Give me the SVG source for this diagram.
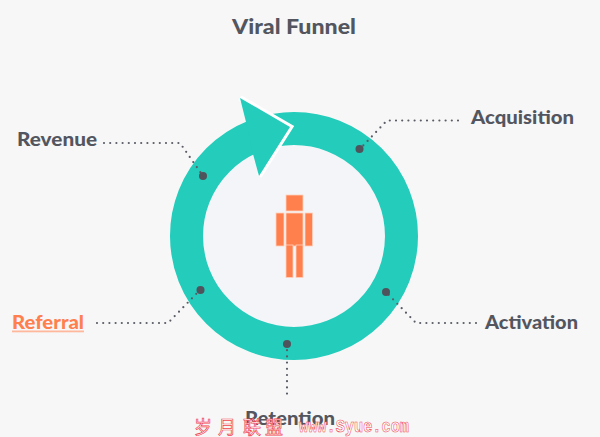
<svg xmlns="http://www.w3.org/2000/svg" width="600" height="437" viewBox="0 0 600 437">
<style>
.l{font-family:Lato,"Open Sans",sans-serif;font-weight:900;font-size:19.500px;fill:#53565f}
.d{fill:none;stroke:#5a5d66;stroke-width:2.2;stroke-linecap:round;stroke-dasharray:0 6.2}
.p{fill:#4f535c}
.o{fill:#ff7f4d;stroke:#ffd2bd;stroke-width:.8}
.w{font-family:"Liberation Mono",monospace;font-weight:700;fill:#fff;stroke:#f0454f;stroke-width:.6}
.c{font-family:"Noto Sans CJK SC",sans-serif;font-weight:400;font-size:18px;fill:#fff;stroke:#f0454f;stroke-width:.7}
</style>
<rect width="600" height="437" fill="#f7f7f7"/>
<text x="232" y="34" class="l" style="font-size:21px" textLength="124" lengthAdjust="spacingAndGlyphs">Viral Funnel</text>
<g id="ring">
<circle cx="294" cy="236" r="107.5" fill="#f3f5f8" stroke="#23ccbb" stroke-width="33"/>
<polyline points="240,98 290,127 259,176" fill="none" stroke="#fff" stroke-width="6" stroke-linejoin="miter"/>
<polygon points="240,98 290,127 259,176 253,154 246,122" fill="#23ccbb"/>
</g>
<g id="person">
<rect class="o" x="286" y="195" width="17" height="16"/>
<rect class="o" x="276" y="213" width="8" height="33"/>
<rect class="o" x="286" y="213" width="17" height="33"/>
<rect class="o" x="305" y="213" width="7.500" height="33"/>
<rect class="o" x="286" y="245" width="7" height="32.500"/>
<rect class="o" x="296" y="245" width="7" height="32.500"/>
</g>
<g id="connectors">
<polyline class="d" points="458,120.500 387,120.500 360,149"/>
<polyline class="d" points="104,143 180,143 203,176"/>
<polyline class="d" points="476,323 416,323 386,292"/>
<polyline class="d" points="97,323 168,323 200,290"/>
<polyline class="d" points="287,344 287,394"/>
</g>
<g id="acquisition"><circle class="p" cx="359.500" cy="149" r="4"/><text class="l" x="471" y="124" textLength="103" lengthAdjust="spacingAndGlyphs">Acquisition</text></g>
<g id="activation"><circle class="p" cx="386" cy="292" r="4"/><text class="l" x="485" y="329" textLength="93" lengthAdjust="spacingAndGlyphs">Activation</text></g>
<g id="retention"><circle class="p" cx="287" cy="344" r="4"/><text class="l" x="245" y="425" textLength="90" lengthAdjust="spacingAndGlyphs">Retention</text></g>
<g id="referral"><circle class="p" cx="200.500" cy="290" r="4"/><text class="l" x="12" y="329" style="fill:#ff7f4d" textLength="72" lengthAdjust="spacingAndGlyphs">Referral</text><rect x="12" y="330.500" width="72" height="1.800" fill="#ffb89b"/></g>
<g id="revenue"><circle class="p" cx="203" cy="176" r="4"/><text class="l" x="17" y="146" textLength="80" lengthAdjust="spacingAndGlyphs">Revenue</text></g>
<g id="watermark">
<text class="c" x="194 218 243 265" y="434">岁月联盟</text>
<text class="w" x="299" y="432" font-size="19" textLength="110" lengthAdjust="spacingAndGlyphs">www.Syue.com</text>
</g>
</svg>
